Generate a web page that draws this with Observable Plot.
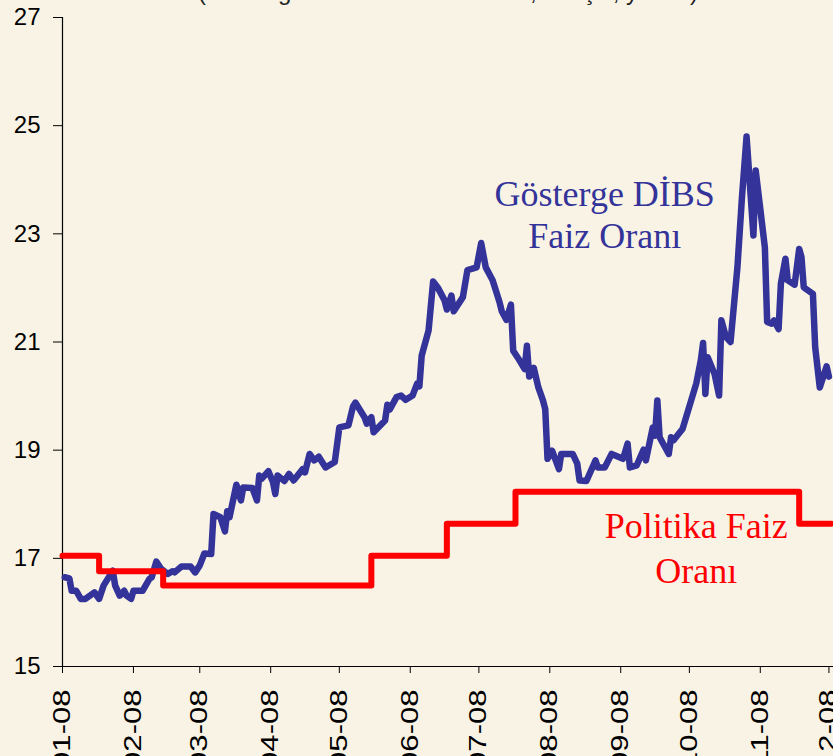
<!DOCTYPE html>
<html>
<head>
<meta charset="utf-8">
<script src="https://cdn.jsdelivr.net/npm/d3@7"></script>
<script src="https://cdn.jsdelivr.net/npm/@observablehq/plot@0.6"></script>
<style>
  html, body { margin: 0; padding: 0; background: #F9F3E6; }
  #chart { width: 833px; height: 756px; overflow: hidden; }
</style>
</head>
<body>
<div id="chart"></div>
<script>
// Gösterge DİBS faiz oranı
const dibsDates = [
  "2008-01-02","2008-01-04","2008-01-05","2008-01-07","2008-01-09","2008-01-11","2008-01-15","2008-01-17",
  "2008-01-19","2008-01-23","2008-01-24","2008-01-26","2008-01-28","2008-01-29","2008-01-31","2008-02-01",
  "2008-02-05","2008-02-08","2008-02-09","2008-02-11","2008-02-13","2008-02-16","2008-02-18","2008-02-19",
  "2008-02-22","2008-02-26","2008-02-28","2008-03-01","2008-03-03","2008-03-06","2008-03-07","2008-03-10",
  "2008-03-12","2008-03-13","2008-03-14","2008-03-17","2008-03-19","2008-03-20","2008-03-24","2008-03-26",
  "2008-03-27","2008-03-28","2008-03-31","2008-04-02","2008-04-03","2008-04-04","2008-04-07","2008-04-09",
  "2008-04-11","2008-04-15","2008-04-16","2008-04-18","2008-04-20","2008-04-22","2008-04-25","2008-04-29",
  "2008-05-01","2008-05-05","2008-05-07","2008-05-08","2008-05-12","2008-05-13","2008-05-15","2008-05-16",
  "2008-05-21","2008-05-22","2008-05-23","2008-05-26","2008-05-28","2008-05-30","2008-06-02","2008-06-04",
  "2008-06-05","2008-06-06","2008-06-09","2008-06-11","2008-06-13","2008-06-16","2008-06-17","2008-06-19",
  "2008-06-20","2008-06-24","2008-06-26","2008-06-30","2008-07-02","2008-07-04","2008-07-07","2008-07-10",
  "2008-07-11","2008-07-13","2008-07-15","2008-07-16","2008-07-18","2008-07-21","2008-07-22","2008-07-23",
  "2008-07-25","2008-07-27","2008-07-29","2008-07-30","2008-07-31","2008-08-02","2008-08-05","2008-08-06",
  "2008-08-11","2008-08-13","2008-08-14","2008-08-17","2008-08-21","2008-08-22","2008-08-25","2008-08-28",
  "2008-09-02","2008-09-04","2008-09-05","2008-09-08","2008-09-11","2008-09-12","2008-09-15","2008-09-16",
  "2008-09-17","2008-09-18","2008-09-22","2008-09-23","2008-09-24","2008-09-28","2008-10-04","2008-10-06",
  "2008-10-07","2008-10-08","2008-10-09","2008-10-12","2008-10-14","2008-10-15","2008-10-17","2008-10-19",
  "2008-10-22","2008-10-24","2008-10-26","2008-10-29","2008-10-30","2008-11-03","2008-11-04","2008-11-06",
  "2008-11-07","2008-11-09","2008-11-10","2008-11-12","2008-11-13","2008-11-16","2008-11-18","2008-11-19",
  "2008-11-20","2008-11-24","2008-11-25","2008-11-27","2008-11-30","2008-12-01"
];
const dibsValues = [
  16.65,16.63,16.40,16.40,16.25,16.25,16.37,16.25,
  16.50,16.77,16.50,16.31,16.40,16.31,16.25,16.40,
  16.40,16.62,16.65,16.94,16.81,16.71,16.76,16.74,
  16.85,16.85,16.74,16.87,17.09,17.08,17.82,17.76,
  17.50,17.87,17.76,18.36,18.07,18.31,18.30,18.07,
  18.53,18.47,18.61,18.41,18.19,18.53,18.43,18.56,
  18.44,18.65,18.59,18.93,18.81,18.88,18.68,18.78,
  19.42,19.46,19.81,19.88,19.61,19.49,19.61,19.33,
  19.55,19.84,19.75,19.98,20.01,19.93,20.01,20.23,
  20.18,20.75,21.21,22.12,22.01,21.77,21.60,21.86,
  21.57,21.83,22.33,22.38,22.83,22.38,22.14,21.74,
  21.57,21.41,21.69,20.84,20.71,20.50,20.93,20.36,
  20.52,20.16,19.92,19.76,18.84,18.99,18.65,18.93,
  18.93,18.75,18.44,18.43,18.81,18.68,18.68,18.93,
  18.84,19.12,18.68,18.72,19.01,18.81,19.42,19.27,
  19.92,19.24,18.93,19.24,19.18,19.39,20.23,20.66,
  20.98,20.04,20.72,20.41,20.01,21.40,21.09,21.00,
  22.38,23.68,24.80,22.97,24.17,22.75,21.37,21.34,
  21.40,21.24,22.08,22.54,22.14,22.06,22.72,22.57,
  22.01,21.89,20.90,20.16,20.55,20.36
];

// Politika faiz oranı (bileşik)
const policyDates = ["2008-01-01","2008-01-17","2008-02-14","2008-05-15","2008-06-17","2008-07-17","2008-11-18","2008-12-02"];
const policyValues = [17.05, 16.76, 16.50, 17.05, 17.64, 18.23, 17.64, 17.64];

// Axis ticks
const yTicks = [15, 17, 19, 21, 23, 25, 27];
const monthTicks = ["2008-01-01","2008-02-01","2008-03-01","2008-04-01","2008-05-01","2008-06-01",
                    "2008-07-01","2008-08-01","2008-09-01","2008-10-01","2008-11-01","2008-12-01"];
const monthLabels = ["01-08","02-08","03-08","04-08","05-08","06-08","07-08","08-08","09-08","10-08","11-08","12-08"];

const subtitle = "(Gösterge Faiz ve Politika Faizi, Bileşik, yüzde)";
const dibsLabel = "Gösterge DİBS\nFaiz Oranı";
const policyLabel = "Politika Faiz\nOranı";

const parse = s => new Date(s + "T00:00:00Z");
const dibs = dibsDates.map((d, i) => ({date: parse(d), value: dibsValues[i]}));
const policy = policyDates.map((d, i) => ({date: parse(d), value: policyValues[i]}));
const tickDates = monthTicks.map(parse);
const x0 = parse("2008-01-01");

const chart = Plot.plot({
  width: 833,
  height: 756,
  marginLeft: 62,
  marginRight: 0,
  marginTop: 17,
  marginBottom: 90,
  style: {background: "#F9F3E6", fontFamily: "'Liberation Sans', Arial, sans-serif", color: "#000", overflow: "visible"},
  x: {type: "utc", domain: [x0, parse("2008-12-03")]},
  y: {domain: [15, 27]},
  marks: [
    Plot.axisY({ticks: yTicks, tickSize: 9, tickPadding: 13, fontSize: 24, label: null, tickFormat: d => String(d), stroke: "#000"}),
    Plot.axisX({ticks: tickDates, tickSize: 7, tickPadding: 16, tickRotate: -90, fontSize: 23, label: null,
      tickFormat: d => monthLabels[tickDates.findIndex(t => +t === +d)], stroke: "#000"}),
    Plot.ruleX([x0], {stroke: "#000", strokeWidth: 1.2}),
    Plot.ruleY([15], {stroke: "#000", strokeWidth: 1.2}),
    Plot.line(dibs, {x: "date", y: "value", stroke: "#333399", strokeWidth: 6.5, strokeLinejoin: "round", strokeLinecap: "round"}),
    Plot.line(policy, {x: "date", y: "value", curve: "step-after", stroke: "#FF0000", strokeWidth: 6, strokeLinejoin: "round"}),
    Plot.text([dibsLabel], {x: () => parse("2008-08-25"), y: () => 22.73, text: d => d, textAnchor: "middle", lineAnchor: "bottom",
      lineHeight: 1.19, fontSize: 36, fontFamily: "'Liberation Serif', 'Times New Roman', serif", fill: "#333399"}),
    Plot.text([policyLabel], {x: () => parse("2008-10-04"), y: () => 16.55, text: d => d, textAnchor: "middle", lineAnchor: "bottom",
      lineHeight: 1.25, fontSize: 36, fontFamily: "'Liberation Serif', 'Times New Roman', serif", fill: "#FF0000"}),
    Plot.text([subtitle], {frameAnchor: "top", dy: -18, lineAnchor: "bottom", text: d => d, fontSize: 24, fill: "#222"})
  ]
});

chart.querySelectorAll('g[aria-label="x-axis tick label"] text').forEach(t => {
  const tr = t.getAttribute("transform") || "";
  t.setAttribute("transform", tr + " scale(1.35,1)");
});

document.getElementById("chart").appendChild(chart);
</script>
</body>
</html>
